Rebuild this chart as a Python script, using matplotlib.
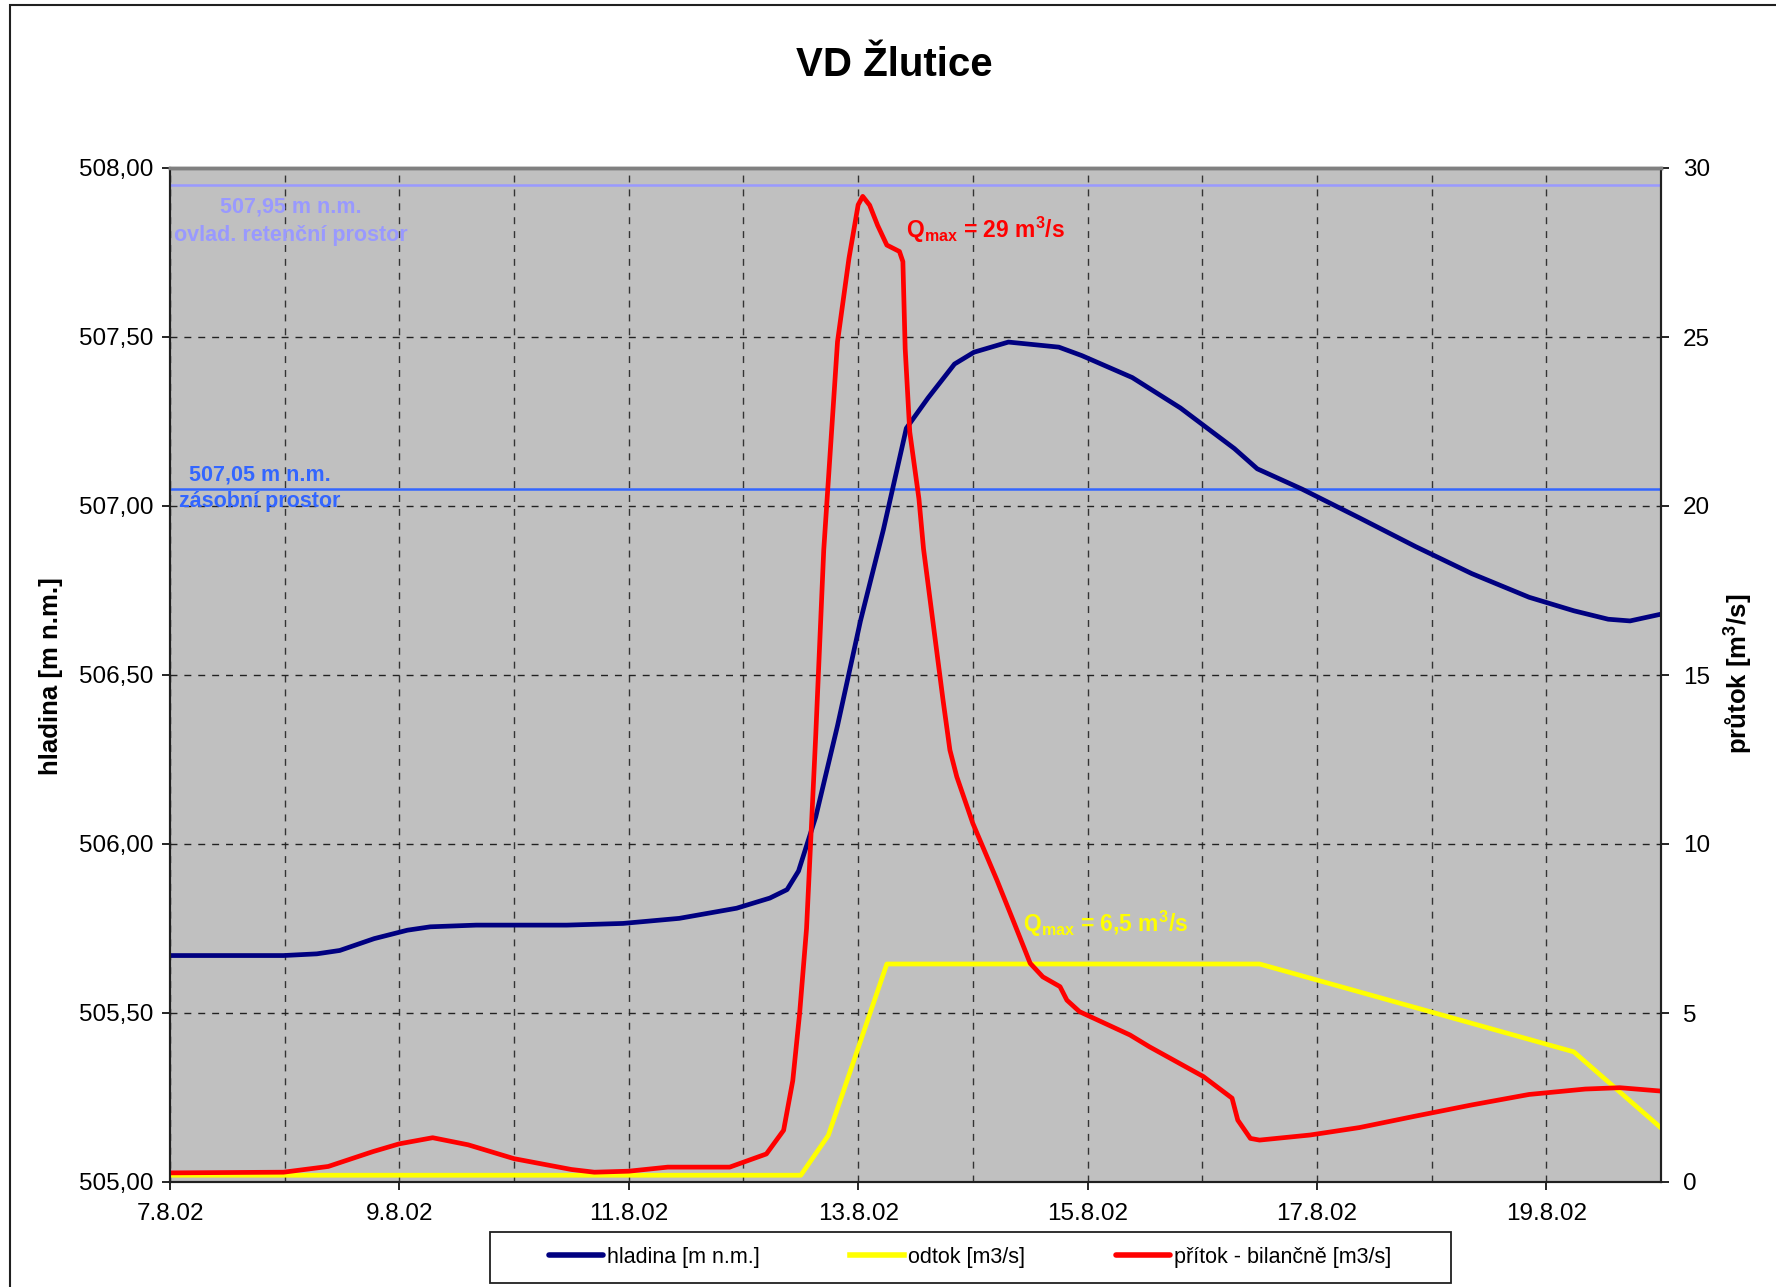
import matplotlib
matplotlib.use("Agg")
import matplotlib.pyplot as plt
from matplotlib.patches import Rectangle
from matplotlib.ticker import MultipleLocator, FixedLocator, FuncFormatter

plt.rcParams["font.family"] = ["Liberation Sans", "DejaVu Sans"]
plt.rcParams["mathtext.fontset"] = "custom"
plt.rcParams["mathtext.rm"] = "Liberation Sans:bold"
plt.rcParams["mathtext.it"] = "Liberation Sans:bold:italic"
plt.rcParams["mathtext.bf"] = "Liberation Sans:bold"

# ---- data (x = days since 7.8.2002) ---------------------------------------
hladina_day = [0, 0.99, 1.28, 1.48, 1.78, 2.07, 2.27, 2.67, 3.46, 3.95, 4.44,
               4.94, 5.23, 5.38, 5.48, 5.63, 5.82, 6.02, 6.22, 6.42, 6.61,
               6.84, 7.01, 7.31, 7.75, 7.95, 8.39, 8.81, 9.28, 9.48, 9.87,
               10.37, 10.86, 11.35, 11.85, 12.24, 12.54, 12.73, 13.0]
hladina = [505.67, 505.67, 505.675, 505.685, 505.72, 505.745, 505.755, 505.76,
           505.76, 505.765, 505.78, 505.81, 505.84, 505.865, 505.92, 506.08,
           506.35, 506.66, 506.93, 507.23, 507.32, 507.42, 507.455, 507.485,
           507.47, 507.445, 507.38, 507.29, 507.17, 507.11, 507.05, 506.965,
           506.88, 506.80, 506.73, 506.69, 506.665, 506.66, 506.68]

odtok_day = [0, 5.50, 5.74, 6.25, 9.50, 12.24, 13.0]
odtok = [0.2, 0.2, 1.38, 6.45, 6.45, 3.85, 1.6]

pritok_day = [0, 0.99, 1.38, 1.77, 2.0, 2.29, 2.6, 3.0, 3.5, 3.7, 4.0, 4.34,
              4.88, 5.2, 5.35, 5.43, 5.49, 5.55, 5.63, 5.7, 5.82, 5.92, 6.0,
              6.04, 6.1, 6.17, 6.25, 6.36, 6.39, 6.41, 6.45, 6.53, 6.57, 6.74,
              6.80, 6.86, 7.0, 7.21, 7.35, 7.5, 7.61, 7.76, 7.82, 7.93, 8.37,
              8.54, 9.01, 9.26, 9.31, 9.42, 9.5, 9.94, 10.37, 10.86, 11.35,
              11.85, 12.34, 12.64, 13.0]
pritok = [0.27, 0.29, 0.46, 0.9, 1.13, 1.31, 1.1, 0.69, 0.37, 0.29, 0.32, 0.44,
          0.44, 0.83, 1.53, 3.0, 5.0, 7.5, 13.2, 18.7, 24.86, 27.33, 28.91,
          29.16, 28.9, 28.3, 27.72, 27.53, 27.23, 24.66, 22.19, 20.21, 18.73,
          14.26, 12.78, 11.99, 10.61, 8.93, 7.75, 6.47, 6.07, 5.78, 5.38, 5.04,
          4.35, 4.0, 3.12, 2.48, 1.83, 1.29, 1.24, 1.39, 1.61, 1.95, 2.28,
          2.59, 2.75, 2.79, 2.69]

tick_days = [0, 2, 4, 6, 8, 10, 12]
tick_labels = ["7.8.02", "9.8.02", "11.8.02", "13.8.02", "15.8.02",
               "17.8.02", "19.8.02"]

retencni = 507.95
zasobni = 507.05

# ---- figure ---------------------------------------------------------------
W, H = 1776, 1287
fig = plt.figure(figsize=(W / 100, H / 100), dpi=100)
ax = fig.add_axes([170 / W, 1 - 1182 / H, (1661 - 170) / W, (1182 - 168) / H])
ax.set_facecolor("#C0C0C0")
ax2 = ax.twinx()

ax.set_xlim(0, 13)
ax.set_ylim(505, 508)
ax2.set_ylim(0, 30)

comma = FuncFormatter(lambda v, p: f"{v:.2f}".replace(".", ","))
ax.yaxis.set_major_locator(MultipleLocator(0.5))
ax.yaxis.set_major_formatter(comma)
ax2.yaxis.set_major_locator(MultipleLocator(5))
ax.xaxis.set_major_locator(FixedLocator(tick_days))
ax.set_xticklabels(tick_labels)
ax.xaxis.set_minor_locator(MultipleLocator(1))

ax.grid(True, which="major", axis="y", color="#222222", lw=1.0, ls=(0, (5, 5)))
ax.grid(True, which="both", axis="x", color="#333333", lw=1.0, ls=(0, (5, 5)))
ax.tick_params(axis="x", which="minor", length=0)
ax.tick_params(axis="x", which="major", length=6, width=1.2, pad=9,
               labelsize=17.5, direction="out")
ax.tick_params(axis="y", length=6, width=1.2, pad=6, labelsize=17.5)
ax2.tick_params(axis="y", length=6, width=1.2, pad=10, labelsize=17.5)

for a in (ax, ax2):
    for s in ("left", "right", "bottom"):
        a.spines[s].set_color("#202020")
        a.spines[s].set_linewidth(1.5)
    a.spines["top"].set_color("#808080")
    a.spines["top"].set_linewidth(2.5)

# reference levels
ax.axhline(retencni, color="#9999FF", lw=1.8)
ax.axhline(zasobni, color="#3366FF", lw=1.8)
ax.text(1.05, 507.885, "507,95 m n.m.", color="#9999FF", fontsize=15.5,
        fontweight="bold", ha="center", va="center")
ax.text(1.05, 507.80, "ovlad. retenční prostor", color="#9999FF",
        fontsize=15.5, fontweight="bold", ha="center", va="center")
ax.text(0.78, 507.093, "507,05 m n.m.", color="#3366FF", fontsize=15.5,
        fontweight="bold", ha="center", va="center")
ax.text(0.78, 507.013, "zásobní prostor", color="#3366FF", fontsize=15.5,
        fontweight="bold", ha="center", va="center")

l1, = ax.plot(hladina_day, hladina, color="#000080", lw=3.4,
              solid_joinstyle="round", solid_capstyle="round",
              label="hladina [m n.m.]")
l2, = ax2.plot(odtok_day, odtok, color="#FFFF00", lw=3.4,
               label="odtok [m3/s]")
l3, = ax2.plot(pritok_day, pritok, color="#FF0000", lw=3.4,
               solid_joinstyle="round", solid_capstyle="round",
               label="přítok - bilančně [m3/s]")

ax2.text(6.42, 28.17, r"Q$_\mathrm{max}$ = 29 m$^\mathrm{3}$/s", color="#FF0000",
         fontsize=16.5, fontweight="bold", ha="left", va="center")
ax2.text(7.44, 7.63, r"Q$_\mathrm{max}$ = 6,5 m$^\mathrm{3}$/s", color="#FFFF00",
         fontsize=16.5, fontweight="bold", ha="left", va="center")

# title and axis labels
fig.text(894 / W, 1 - 65 / H, "VD Žlutice", fontsize=29, fontweight="bold",
         ha="center", va="center")
fig.text(51 / W, 1 - 676 / H, "hladina [m n.m.]", fontsize=18.5,
         fontweight="bold", rotation=90, ha="center", va="center")
fig.text(1739 / W, 1 - 674 / H, r"průtok [m$^\mathrm{3}$/s]", fontsize=18.5,
         fontweight="bold", rotation=90, ha="center", va="center")

# legend with its own frame
fig.add_artist(Rectangle((490 / W, 1 - 1283 / H), (1451 - 490) / W, 51 / H,
                         transform=fig.transFigure, facecolor="white",
                         edgecolor="#202020", lw=1.3, zorder=1))
leg = fig.legend(handles=[l1, l2, l3], loc="center", ncol=3, frameon=False,
                 bbox_to_anchor=(970 / W, 1 - 1257 / H), fontsize=15.5,
                 handlelength=2.5, handletextpad=0.2, columnspacing=4.2)
for h in leg.legend_handles:
    h.set_linewidth(4.0)

# outer chart frame
fig.add_artist(Rectangle((10 / W, -0.5), 2, 1.5 - 5 / H,
                         transform=fig.transFigure, facecolor="none",
                         edgecolor="#202020", lw=1.5))

fig.savefig("out.png", dpi=100)
